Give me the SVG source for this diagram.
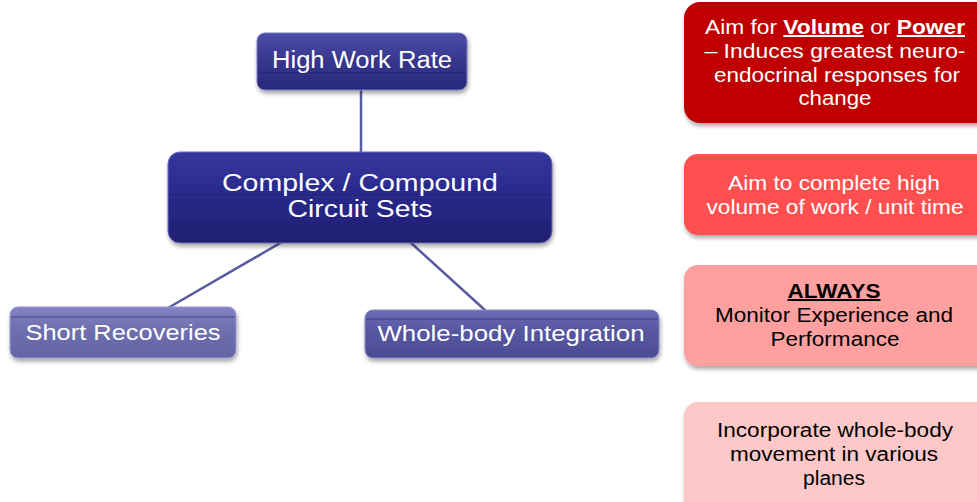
<svg xmlns="http://www.w3.org/2000/svg" width="977" height="502" viewBox="0 0 977 502">
<defs>
<linearGradient id="gDark" x1="0" y1="0" x2="0" y2="1">
<stop offset="0" stop-color="#4e4eaa"/><stop offset="0.45" stop-color="#38388f"/><stop offset="1" stop-color="#28287c"/>
</linearGradient>
<linearGradient id="gMain" x1="0" y1="0" x2="0" y2="1">
<stop offset="0" stop-color="#36369c"/><stop offset="0.45" stop-color="#2a2a8c"/><stop offset="1" stop-color="#1f1f70"/>
</linearGradient>
<linearGradient id="gLight" x1="0" y1="0" x2="0" y2="1">
<stop offset="0" stop-color="#8484c4"/><stop offset="0.4" stop-color="#7070b0"/><stop offset="1" stop-color="#6464a4"/>
</linearGradient>
<linearGradient id="gMid" x1="0" y1="0" x2="0" y2="1">
<stop offset="0" stop-color="#6c6cb6"/><stop offset="0.4" stop-color="#5858a2"/><stop offset="1" stop-color="#4c4c94"/>
</linearGradient>
<filter id="sh" x="-10%" y="-20%" width="120%" height="150%">
<feDropShadow dx="1" dy="3" stdDeviation="2" flood-color="#000" flood-opacity="0.35"/>
</filter>
</defs>
<style>
.nt{font-family:"Liberation Sans",Arial,sans-serif;fill:#fff;text-anchor:middle}
.rt{font-family:"Liberation Sans",Arial,sans-serif;font-size:20px;text-anchor:middle}
.w{fill:#fff}
.k{fill:#000}
.hl{stroke:#1a1a5a;stroke-width:1;opacity:0.6}
.edge{stroke:#5a5aa2;stroke-width:2.5;fill:none}
.u{text-decoration:underline;font-weight:bold}
</style>
<g id="connectors">
<line class="edge" x1="361" y1="90" x2="361" y2="153"/>
<line class="edge" x1="282" y1="242" x2="168" y2="308"/>
<line class="edge" x1="410" y1="242" x2="486" y2="311"/>
</g>
<g id="n-high">
<rect x="257" y="33" width="210" height="57" rx="8" fill="url(#gDark)" stroke="#7a7ac0" stroke-width="1" filter="url(#sh)"/>
<line class="hl" x1="258" y1="73" x2="466" y2="73"/>
<text class="nt" x="362" y="68" font-size="23" textLength="180" lengthAdjust="spacingAndGlyphs">High Work Rate</text>
</g>
<g id="n-main">
<rect x="168" y="152" width="384" height="91" rx="12" fill="url(#gMain)" stroke="#6a6ab8" stroke-width="1" filter="url(#sh)"/>
<line class="hl" x1="169" y1="195" x2="551" y2="195"/>
<text class="nt" x="360" y="191" font-size="23" textLength="276" lengthAdjust="spacingAndGlyphs">Complex / Compound</text>
<text class="nt" x="360" y="217" font-size="23" textLength="145" lengthAdjust="spacingAndGlyphs">Circuit Sets</text>
</g>
<g id="n-short">
<rect x="10" y="307" width="226" height="51" rx="8" fill="url(#gLight)" stroke="#9a9ad0" stroke-width="1" filter="url(#sh)"/>
<line class="hl" x1="11" y1="317" x2="235" y2="317"/>
<text class="nt" x="123" y="340" font-size="22" textLength="195" lengthAdjust="spacingAndGlyphs">Short Recoveries</text>
</g>
<g id="n-whole">
<rect x="365" y="310" width="294" height="48" rx="8" fill="url(#gMid)" stroke="#8a8ac8" stroke-width="1" filter="url(#sh)"/>
<line class="hl" x1="366" y1="319" x2="658" y2="319"/>
<text class="nt" x="511" y="341" font-size="22" textLength="267" lengthAdjust="spacingAndGlyphs">Whole-body Integration</text>
</g>
<g id="b1">
<rect x="684" y="2" width="310" height="121" rx="16" fill="#c00000" filter="url(#sh)"/>
<text class="rt w" x="835" y="34" textLength="260" lengthAdjust="spacingAndGlyphs">Aim for <tspan class="u">Volume</tspan> or <tspan class="u">Power</tspan></text>
<text class="rt w" x="835" y="58" textLength="261" lengthAdjust="spacingAndGlyphs">– Induces greatest neuro-</text>
<text class="rt w" x="837" y="82" textLength="246" lengthAdjust="spacingAndGlyphs">endocrinal responses for</text>
<text class="rt w" x="835" y="105" textLength="73" lengthAdjust="spacingAndGlyphs">change</text>
</g>
<g id="b2">
<rect x="684" y="154" width="310" height="81" rx="14" fill="#ff5050" filter="url(#sh)"/>
<text class="rt w" x="834" y="190" textLength="212" lengthAdjust="spacingAndGlyphs">Aim to complete high</text>
<text class="rt w" x="835" y="214" textLength="257" lengthAdjust="spacingAndGlyphs">volume of work / unit time</text>
</g>
<g id="b3">
<rect x="684" y="265" width="310" height="101" rx="14" fill="#ffa0a0" filter="url(#sh)"/>
<text class="rt k u" x="834" y="298" textLength="93" lengthAdjust="spacingAndGlyphs">ALWAYS</text>
<text class="rt k" x="834" y="322" textLength="238" lengthAdjust="spacingAndGlyphs">Monitor Experience and</text>
<text class="rt k" x="835" y="346" textLength="129" lengthAdjust="spacingAndGlyphs">Performance</text>
</g>
<g id="b4">
<rect x="684" y="402" width="310" height="110" rx="14" fill="#ffc8c8" filter="url(#sh)"/>
<text class="rt k" x="835" y="437" textLength="236" lengthAdjust="spacingAndGlyphs">Incorporate whole-body</text>
<text class="rt k" x="834" y="461" textLength="208" lengthAdjust="spacingAndGlyphs">movement in various</text>
<text class="rt k" x="834" y="485" textLength="62" lengthAdjust="spacingAndGlyphs">planes</text>
</g>
</svg>
